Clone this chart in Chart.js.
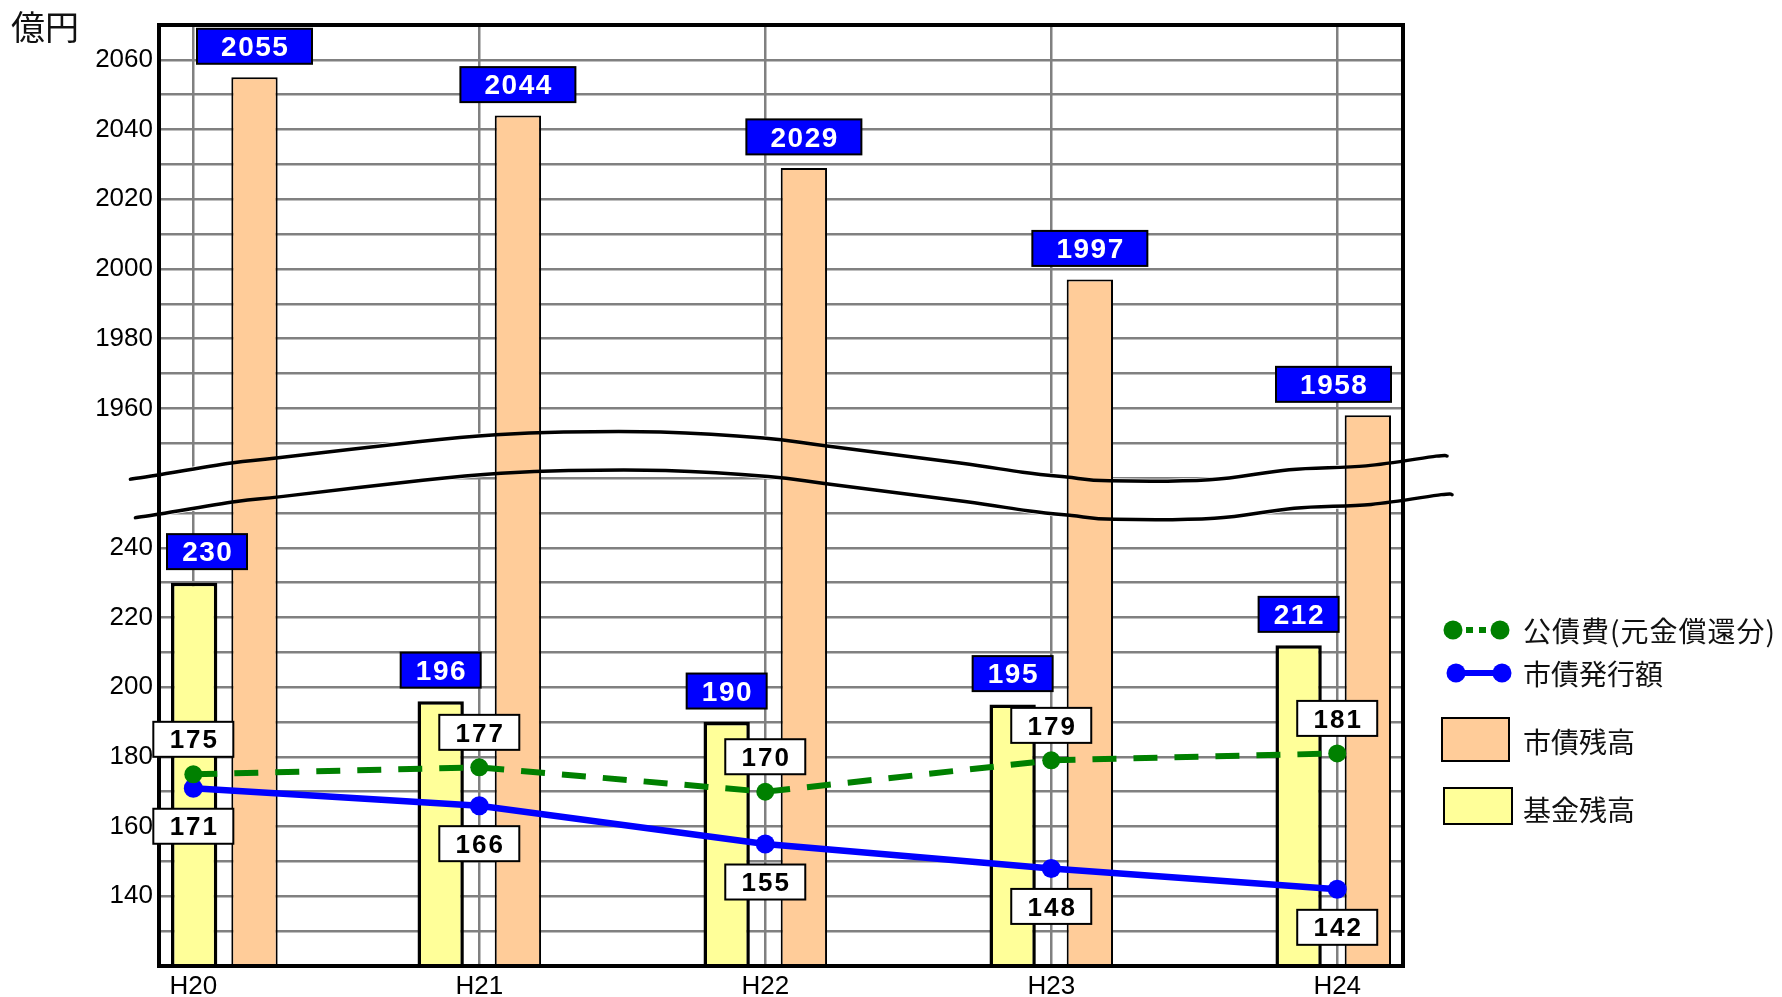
<!DOCTYPE html>
<html lang="ja">
<head>
<meta charset="utf-8">
<title>市債残高・基金残高の推移</title>
<script src="https://cdn.jsdelivr.net/npm/chart.js@4/dist/chart.umd.min.js"></script>
<style>
  html, body { margin: 0; padding: 0; background: #fff; }
  #wrap { width: 1782px; height: 997px; }
</style>
</head>
<body>
<div id="wrap"><canvas id="chart" width="1782" height="997"></canvas></div>
<script>
// 年度
const categories = ['H20', 'H21', 'H22', 'H23', 'H24'];
// 基金残高（億円）
const fundBalance = [230, 196, 190, 195, 212];
// 市債残高（億円）
const bondBalance = [2055, 2044, 2029, 1997, 1958];
// 公債費（元金償還分）（億円）
const debtRepayment = [175, 177, 170, 179, 181];
// 市債発行額（億円）
const bondIssuance = [171, 166, 155, 148, 142];
// 目盛ラベル（省略線の下側・上側）
const lowerTickLabels = [140, 160, 180, 200, 220, 240];
const upperTickLabels = [1960, 1980, 2000, 2020, 2040, 2060];

// 省略線より上の値はこの分だけ下げて描く
const AXIS_GAP = 1680;

// 省略線（上側の線）の経路：[x（年度位置）, y（軸の値）]
const breakLine = [
  [-0.22, 259.7], [-0.147, 260.6], [0.133, 264.3], [0.297, 265.8], [0.785, 270.4],
  [1.058, 272.4], [1.295, 273.2], [1.634, 273.2], [1.993, 271.5], [2.216, 269.2],
  [2.681, 264.3], [2.9, 261.7], [3.054, 260.3], [3.204, 259.2], [3.553, 259.5],
  [3.832, 262.4], [4.101, 263.5], [4.346, 266.3], [4.384, 266.3]
];
const BREAK_DX = 0.0175;
const BREAK_DY = -11.05;

const GREEN = '#008000';
const BLUE = '#0000ff';
const ORANGE = '#ffcc99';
const YELLOW = '#ffff99';
const GRID = '#808080';
const NUM_FONT = '"Liberation Sans", Arial, sans-serif';
const JP_FONT = '"Noto Sans CJK JP", "Noto Sans", sans-serif';

const asPoints = arr => arr.map((v, i) => ({ x: i, y: v }));

function traceSmooth(ctx, pts, join) {
  if (join) ctx.lineTo(pts[0][0], pts[0][1]); else ctx.moveTo(pts[0][0], pts[0][1]);
  for (let i = 0; i < pts.length - 1; i++) {
    const p0 = pts[i - 1] || pts[i], p1 = pts[i], p2 = pts[i + 1], p3 = pts[i + 2] || p2;
    ctx.bezierCurveTo(
      p1[0] + (p2[0] - p0[0]) / 6, p1[1] + (p2[1] - p0[1]) / 6,
      p2[0] - (p3[0] - p1[0]) / 6, p2[1] - (p3[1] - p1[1]) / 6,
      p2[0], p2[1]);
  }
}

function breakPixels(chart) {
  const xs = chart.scales.x, ys = chart.scales.y;
  const upper = breakLine.map(([i, v]) => [xs.getPixelForValue(i), ys.getPixelForValue(v)]);
  const lower = breakLine.map(([i, v]) => [xs.getPixelForValue(i + BREAK_DX), ys.getPixelForValue(v + BREAK_DY)]);
  return { upper, lower };
}

const tagWidth = text => 35 * text.length - 25;

function drawTag(ctx, text, cx, cy, fill, color, size, spacing) {
  const w = tagWidth(text), h = 35;
  ctx.save();
  ctx.fillStyle = fill;
  ctx.fillRect(cx - w / 2, cy - h / 2, w, h);
  ctx.lineWidth = 2;
  ctx.strokeStyle = '#000';
  ctx.strokeRect(cx - w / 2, cy - h / 2, w, h);
  ctx.font = 'bold ' + size + 'px ' + NUM_FONT;
  ctx.letterSpacing = spacing + 'px';
  ctx.fillStyle = color;
  ctx.textAlign = 'center';
  ctx.textBaseline = 'middle';
  ctx.fillText(text, cx + spacing / 2, cy + 2);
  ctx.restore();
}

// 値ラベルを枠の内側に収める
function insideX(area, cx, w) {
  return Math.max(area.left + 8 + w / 2, Math.min(area.right - 12 - w / 2, cx));
}

const decor = {
  id: 'decor',
  afterDatasetsUpdate(chart) {
    // 枠からはみ出す棒の組を内側へ寄せる
    const area = chart.chartArea;
    const fundBars = chart.getDatasetMeta(2).data;
    const bondBars = chart.getDatasetMeta(3).data;
    const margin = 12, gap = 14;
    fundBars.forEach((a, i) => {
      const b = bondBars[i];
      const aLeft = a.x - a.width / 2;
      if (aLeft < area.left + margin) {
        a.x += area.left + margin - aLeft;
        const bLeftMin = a.x + a.width / 2 + gap;
        if (b.x - b.width / 2 < bLeftMin) b.x = bLeftMin + b.width / 2;
      }
      const bRight = b.x + b.width / 2;
      if (bRight > area.right - margin) {
        b.x -= bRight - (area.right - margin);
        const aRightMax = b.x - b.width / 2 - gap;
        if (a.x + a.width / 2 > aRightMax) a.x = aRightMax - a.width / 2;
      }
    });
  },
  beforeDatasetsDraw(chart) {
    // 省略部分の白帯
    const ctx = chart.ctx;
    const { upper, lower } = breakPixels(chart);
    ctx.save();
    ctx.beginPath();
    traceSmooth(ctx, upper, false);
    traceSmooth(ctx, lower.slice().reverse(), true);
    ctx.closePath();
    ctx.fillStyle = '#fff';
    ctx.fill();
    ctx.lineWidth = 5;
    ctx.strokeStyle = '#fff';
    ctx.stroke();
    ctx.restore();
  },
  afterDatasetsDraw(chart) {
    const ctx = chart.ctx;
    const area = chart.chartArea;
    // 省略線
    const { upper, lower } = breakPixels(chart);
    ctx.save();
    ctx.strokeStyle = '#000';
    ctx.lineWidth = 3.5;
    ctx.lineCap = 'round';
    [upper, lower].forEach(p => { ctx.beginPath(); traceSmooth(ctx, p, false); ctx.stroke(); });
    // 枠
    ctx.lineWidth = 4;
    ctx.lineCap = 'butt';
    ctx.strokeRect(area.left, area.top, area.right - area.left, area.bottom - area.top);
    ctx.restore();

    // 棒の値
    const fundMeta = chart.getDatasetMeta(2);
    const bondMeta = chart.getDatasetMeta(3);
    fundMeta.data.forEach((el, i) => {
      const t = String(fundBalance[i]);
      drawTag(ctx, t, insideX(area, el.x, tagWidth(t)), el.y - 31, BLUE, '#fff', 28, 1.5);
    });
    bondMeta.data.forEach((el, i) => {
      const t = String(bondBalance[i]);
      drawTag(ctx, t, insideX(area, el.x, tagWidth(t)), el.y - 31, BLUE, '#fff', 28, 1.5);
    });
    // 折れ線の値
    const repayMeta = chart.getDatasetMeta(0);
    const issueMeta = chart.getDatasetMeta(1);
    repayMeta.data.forEach((el, i) => drawTag(ctx, String(debtRepayment[i]), el.x, el.y - 35, '#fff', '#000', 26, 2));
    issueMeta.data.forEach((el, i) => drawTag(ctx, String(bondIssuance[i]), el.x, el.y + 38, '#fff', '#000', 26, 2));
  },
  afterDraw(chart) {
    const ctx = chart.ctx;
    ctx.save();
    // 単位
    ctx.fillStyle = '#111';
    ctx.font = '34px ' + JP_FONT;
    ctx.textAlign = 'left';
    ctx.textBaseline = 'middle';
    ctx.fillText('億円', 11, 27);

    // 凡例
    const tx = 1523;
    ctx.font = '28px ' + JP_FONT;
    // 公債費（元金償還分）
    ctx.strokeStyle = GREEN;
    ctx.lineWidth = 6;
    ctx.setLineDash([7, 6]);
    ctx.beginPath(); ctx.moveTo(1453, 630); ctx.lineTo(1500, 630); ctx.stroke();
    ctx.setLineDash([]);
    ctx.fillStyle = GREEN;
    [1453, 1500].forEach(x => { ctx.beginPath(); ctx.arc(x, 630, 9.5, 0, Math.PI * 2); ctx.fill(); });
    ctx.fillStyle = '#111';
    ctx.letterSpacing = '1px';
    ctx.fillText('公債費(元金償還分)', tx, 631);
    ctx.letterSpacing = '0px';
    // 市債発行額
    ctx.strokeStyle = BLUE;
    ctx.lineWidth = 6;
    ctx.beginPath(); ctx.moveTo(1456, 673); ctx.lineTo(1502, 673); ctx.stroke();
    ctx.fillStyle = BLUE;
    [1456, 1502].forEach(x => { ctx.beginPath(); ctx.arc(x, 673, 9.5, 0, Math.PI * 2); ctx.fill(); });
    ctx.fillStyle = '#111';
    ctx.fillText('市債発行額', tx, 674);
    // 市債残高
    ctx.lineWidth = 2;
    ctx.strokeStyle = '#000';
    ctx.fillStyle = ORANGE;
    ctx.fillRect(1442, 718, 67, 43); ctx.strokeRect(1442, 718, 67, 43);
    ctx.fillStyle = '#111';
    ctx.fillText('市債残高', tx, 742);
    // 基金残高
    ctx.fillStyle = YELLOW;
    ctx.fillRect(1444, 788, 68, 36); ctx.strokeRect(1444, 788, 68, 36);
    ctx.fillStyle = '#111';
    ctx.fillText('基金残高', tx, 810);
    ctx.restore();
  }
};

new Chart(document.getElementById('chart'), {
  type: 'bar',
  data: {
    datasets: [
      {
        type: 'line', label: '公債費（元金償還分）', data: asPoints(debtRepayment),
        borderColor: GREEN, borderWidth: 6, borderDash: [24, 17], tension: 0,
        pointRadius: 9, pointBackgroundColor: GREEN, pointBorderWidth: 0, order: 0
      },
      {
        type: 'line', label: '市債発行額', data: asPoints(bondIssuance),
        borderColor: BLUE, borderWidth: 6.5, tension: 0,
        pointRadius: 9.5, pointBackgroundColor: BLUE, pointBorderWidth: 0, order: 0
      },
      {
        type: 'bar', label: '基金残高', data: asPoints(fundBalance),
        backgroundColor: YELLOW, borderColor: '#000', borderWidth: 3.5, order: 1
      },
      {
        type: 'bar', label: '市債残高', data: asPoints(bondBalance.map(v => v - AXIS_GAP)),
        backgroundColor: ORANGE, borderColor: '#000', borderWidth: 2, order: 1
      }
    ]
  },
  options: {
    responsive: false,
    animation: false,
    devicePixelRatio: 1,
    layout: { padding: { left: 0, top: 25, right: 379, bottom: 0 } },
    datasets: { bar: { categoryPercentage: 0.54, barPercentage: 0.6 } },
    plugins: { legend: { display: false }, tooltip: { enabled: false } },
    scales: {
      x: {
        type: 'linear', min: -0.12, max: 4.23, offset: false,
        afterBuildTicks: s => { s.ticks = categories.map((_, i) => ({ value: i })); },
        afterFit: s => { s.height = 31; },
        grid: { color: GRID, lineWidth: 2.5, drawTicks: false, offset: false },
        border: { display: false },
        ticks: {
          autoSkip: false, maxRotation: 0, padding: 5, color: '#000',
          font: { family: NUM_FONT, size: 26 },
          callback: v => categories[v] ?? ''
        }
      },
      y: {
        type: 'linear', min: 120, max: 390,
        afterFit: s => { s.width = 159; },
        grid: { color: GRID, lineWidth: 2.5, drawTicks: false },
        border: { display: false },
        ticks: {
          stepSize: 10, autoSkip: false, padding: 6, color: '#000',
          font: { family: NUM_FONT, size: 26 },
          callback: v => {
            if (lowerTickLabels.includes(v)) return String(v);
            if (upperTickLabels.includes(v + AXIS_GAP)) return String(v + AXIS_GAP);
            return '';
          }
        }
      }
    }
  },
  plugins: [decor]
});
</script>
</body>
</html>
